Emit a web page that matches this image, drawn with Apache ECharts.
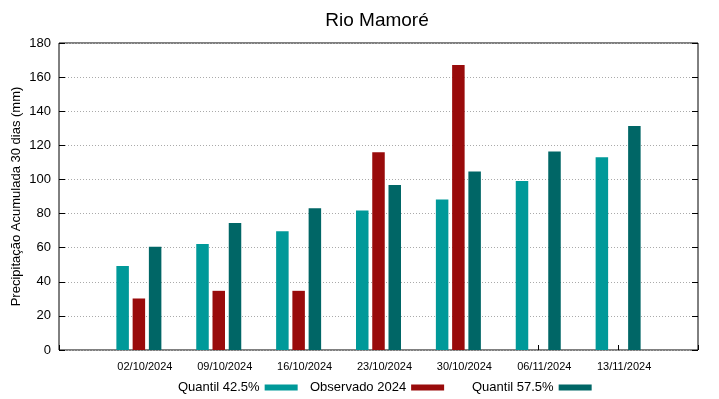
<!DOCTYPE html>
<html>
<head>
<meta charset="utf-8">
<script src="https://cdn.jsdelivr.net/npm/echarts@6/dist/echarts.min.js"></script>
<style>
  html, body { margin: 0; padding: 0; background: #fff; }
  #chart { width: 719px; height: 399px; }
</style>
</head>
<body>
<div id="chart"></div>
<script>
// datas das semanas
const dates = ['02/10/2024', '09/10/2024', '16/10/2024', '23/10/2024', '30/10/2024', '06/11/2024', '13/11/2024']
// precipitação acumulada 30 dias (mm)
const quantil425 = [49.3, 62.1, 69.6, 81.8, 88.2, 99.1, 113.0]
const observado2024 = [30.2, 34.7, 34.7, 115.9, 167.1, null, null]
const quantil575 = [60.6, 74.4, 83.1, 96.7, 104.6, 116.4, 131.3]
const yTicks = [0, 20, 40, 60, 80, 100, 120, 140, 160, 180]

const font = 'Liberation Sans, Arial, sans-serif'
const colors = ['#009999', '#990b0b', '#006666']
const names = ['Quantil 42.5%', 'Observado 2024', 'Quantil 57.5%']
const seriesData = [quantil425, observado2024, quantil575]

const toPoints = arr => arr.map((v, i) => [i, v == null ? '-' : v])

const myChart = echarts.init(document.getElementById('chart'))
const option = {
    animation: false,
    title: {
        text: 'Rio Mamoré',
        left: 372,
        top: 6,
        textAlign: 'center',
        textStyle: { fontFamily: font, fontSize: 19, fontWeight: 'normal', color: '#000' }
    },
    legend: names.map((n, i) => ({
        data: [n],
        left: [178, 310, 472][i],
        top: 381,
        padding: 0,
        align: 'right',
        itemWidth: 33,
        itemHeight: 6,
        itemGap: 0,
        itemTextGap: 8,
        icon: 'rect',
        textStyle: { fontFamily: font, fontSize: 13, color: '#000' }
    })),
    grid: {
        left: 59,
        right: 21,
        top: 43,
        bottom: 49,
        outerBoundsMode: 'none',
        show: true,
        borderColor: '#000',
        borderWidth: 1
    },
    xAxis: {
        type: 'value',
        min: -1,
        max: 7,
        interval: 1,
        splitLine: { show: false },
        axisLine: { show: false, onZero: false },
        axisTick: { inside: true, length: 5, lineStyle: { color: '#000' } },
        axisLabel: {
            fontFamily: font,
            fontSize: 11,
            color: '#000',
            margin: 11,
            padding: [0, 0, 0, 12],
            formatter: v => dates[v] || ''
        }
    },
    yAxis: [{
        type: 'value',
        min: yTicks[0],
        max: yTicks[yTicks.length - 1],
        interval: 20,
        name: 'Precipitação Acumulada 30 dias (mm)',
        nameLocation: 'middle',
        nameMoveOverlap: false,
        nameGap: 36,
        nameTextStyle: { fontFamily: font, fontSize: 13, color: '#000' },
        axisLine: { show: false, onZero: false },
        axisTick: { inside: true, length: 6, lineStyle: { color: '#000' } },
        axisLabel: { fontFamily: font, fontSize: 13, color: '#000', margin: 8 },
        splitLine: { lineStyle: { color: '#aaa', type: [1, 2], width: 1 } }
    }, {
        type: 'value',
        min: yTicks[0],
        max: yTicks[yTicks.length - 1],
        interval: 20,
        position: 'right',
        axisLine: { show: false, onZero: false },
        axisTick: { inside: true, length: 6, lineStyle: { color: '#000' } },
        axisLabel: { show: false },
        splitLine: { show: false }
    }],
    series: seriesData.map((d, i) => ({
        name: names[i],
        type: 'bar',
        barWidth: 12.5,
        barGap: '30%',
        itemStyle: { color: colors[i] },
        data: toPoints(d)
    }))
}
myChart.setOption(option)
</script>
</body>
</html>
